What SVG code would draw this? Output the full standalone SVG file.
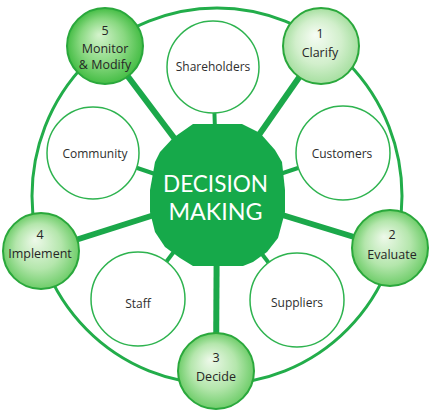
<svg xmlns="http://www.w3.org/2000/svg" width="437" height="412" viewBox="0 0 437 412">
<defs>
<radialGradient id="gDark" cx="0.5" cy="0.5" r="0.5" fx="0.42" fy="0.35">
<stop offset="0" stop-color="#d4f3cc"/>
<stop offset="0.6" stop-color="#88d880"/>
<stop offset="1" stop-color="#45bd45"/>
</radialGradient>
<radialGradient id="gLight" cx="0.5" cy="0.5" r="0.5" fx="0.42" fy="0.35">
<stop offset="0" stop-color="#f6fcf4"/>
<stop offset="0.6" stop-color="#d2efcc"/>
<stop offset="1" stop-color="#a6dfa0"/>
</radialGradient>
<radialGradient id="gMid" cx="0.5" cy="0.5" r="0.5" fx="0.42" fy="0.35">
<stop offset="0" stop-color="#eef9ea"/>
<stop offset="0.6" stop-color="#b4e6ac"/>
<stop offset="1" stop-color="#6fcd6a"/>
</radialGradient>
</defs>
<style>
.ring{fill:none;stroke:#22ad4a;stroke-width:3}
.spoke{stroke:#1ba84a;stroke-width:6;stroke-linecap:butt}
.spk{stroke:#1ba84a;stroke-width:4}
.inner{fill:#ffffff;stroke:#2eb34f;stroke-width:1.5}
.outer{stroke:#2aa83c;stroke-width:2}
.lbl{font-family:"Open Sans","Noto Sans",sans-serif;font-size:12px;font-weight:500;fill:#2e2e2e;text-anchor:middle}
.olbl{font-family:"Open Sans","Noto Sans",sans-serif;font-size:12.5px;font-weight:500;fill:#262626;text-anchor:middle}
.ctr{font-family:Lato,"Open Sans",sans-serif;font-size:23px;font-weight:400;fill:#ffffff;text-anchor:middle}
</style>
<g id="connectors">
<ellipse class="ring" cx="217" cy="196" rx="185" ry="188"/>
<line class="spoke" x1="217" y1="195" x2="105" y2="46"/>
<line class="spoke" x1="217" y1="195" x2="321" y2="46"/>
<line class="spoke" x1="217" y1="195" x2="390" y2="248"/>
<line class="spoke" x1="217" y1="195" x2="216" y2="371"/>
<line class="spoke" x1="217" y1="195" x2="41" y2="251"/>
<line class="spk" x1="217" y1="195" x2="213" y2="67"/>
<line class="spk" x1="217" y1="195" x2="343" y2="153"/>
<line class="spk" x1="217" y1="195" x2="297" y2="300"/>
<line class="spk" x1="217" y1="195" x2="138" y2="299"/>
<line class="spk" x1="217" y1="195" x2="93" y2="153"/>
</g>
<g id="shareholders"><circle class="inner" cx="213" cy="67" r="46"/><text class="lbl" x="213" y="71">Shareholders</text></g>
<g id="customers"><circle class="inner" cx="343" cy="153" r="47"/><text class="lbl" x="342" y="158">Customers</text></g>
<g id="suppliers"><circle class="inner" cx="297" cy="300" r="47"/><text class="lbl" x="297" y="307">Suppliers</text></g>
<g id="staff"><circle class="inner" cx="138" cy="299" r="47"/><text class="lbl" x="138" y="308">Staff</text></g>
<g id="community"><circle class="inner" cx="93" cy="153" r="46"/><text class="lbl" x="95" y="158">Community</text></g>
<g id="decision-making">
<polygon fill="#16a94a" points="193,124 242,124 260,133 275,150 282,162 285,190 285,212 278,238 267,252 253,262 243,266 193,266 180,258 165,247 155,232 150,212 150,190 155,162 160,152 173,138"/>
<text class="ctr" x="215.5" y="192" textLength="105" lengthAdjust="spacingAndGlyphs">DECISION</text>
<text class="ctr" x="215.5" y="220" textLength="94" lengthAdjust="spacingAndGlyphs">MAKING</text>
</g>
<g id="monitor"><circle class="outer" cx="105" cy="46" r="38" fill="url(#gDark)"/><text class="olbl" x="105" y="35">5</text><text class="olbl" x="105" y="53">Monitor</text><text class="olbl" x="105" y="69">&amp; Modify</text></g>
<g id="clarify"><circle class="outer" cx="321" cy="46" r="38" fill="url(#gLight)"/><text class="olbl" x="320" y="38">1</text><text class="olbl" x="320" y="57">Clarify</text></g>
<g id="evaluate"><circle class="outer" cx="390" cy="248" r="38" fill="url(#gMid)"/><text class="olbl" x="392" y="239">2</text><text class="olbl" x="392" y="259">Evaluate</text></g>
<g id="decide"><circle class="outer" cx="216" cy="371" r="38" fill="url(#gMid)"/><text class="olbl" x="216" y="362">3</text><text class="olbl" x="216" y="381">Decide</text></g>
<g id="implement"><circle class="outer" cx="41" cy="251" r="38" fill="url(#gMid)"/><text class="olbl" x="40" y="239">4</text><text class="olbl" x="40" y="258">Implement</text></g>
</svg>
